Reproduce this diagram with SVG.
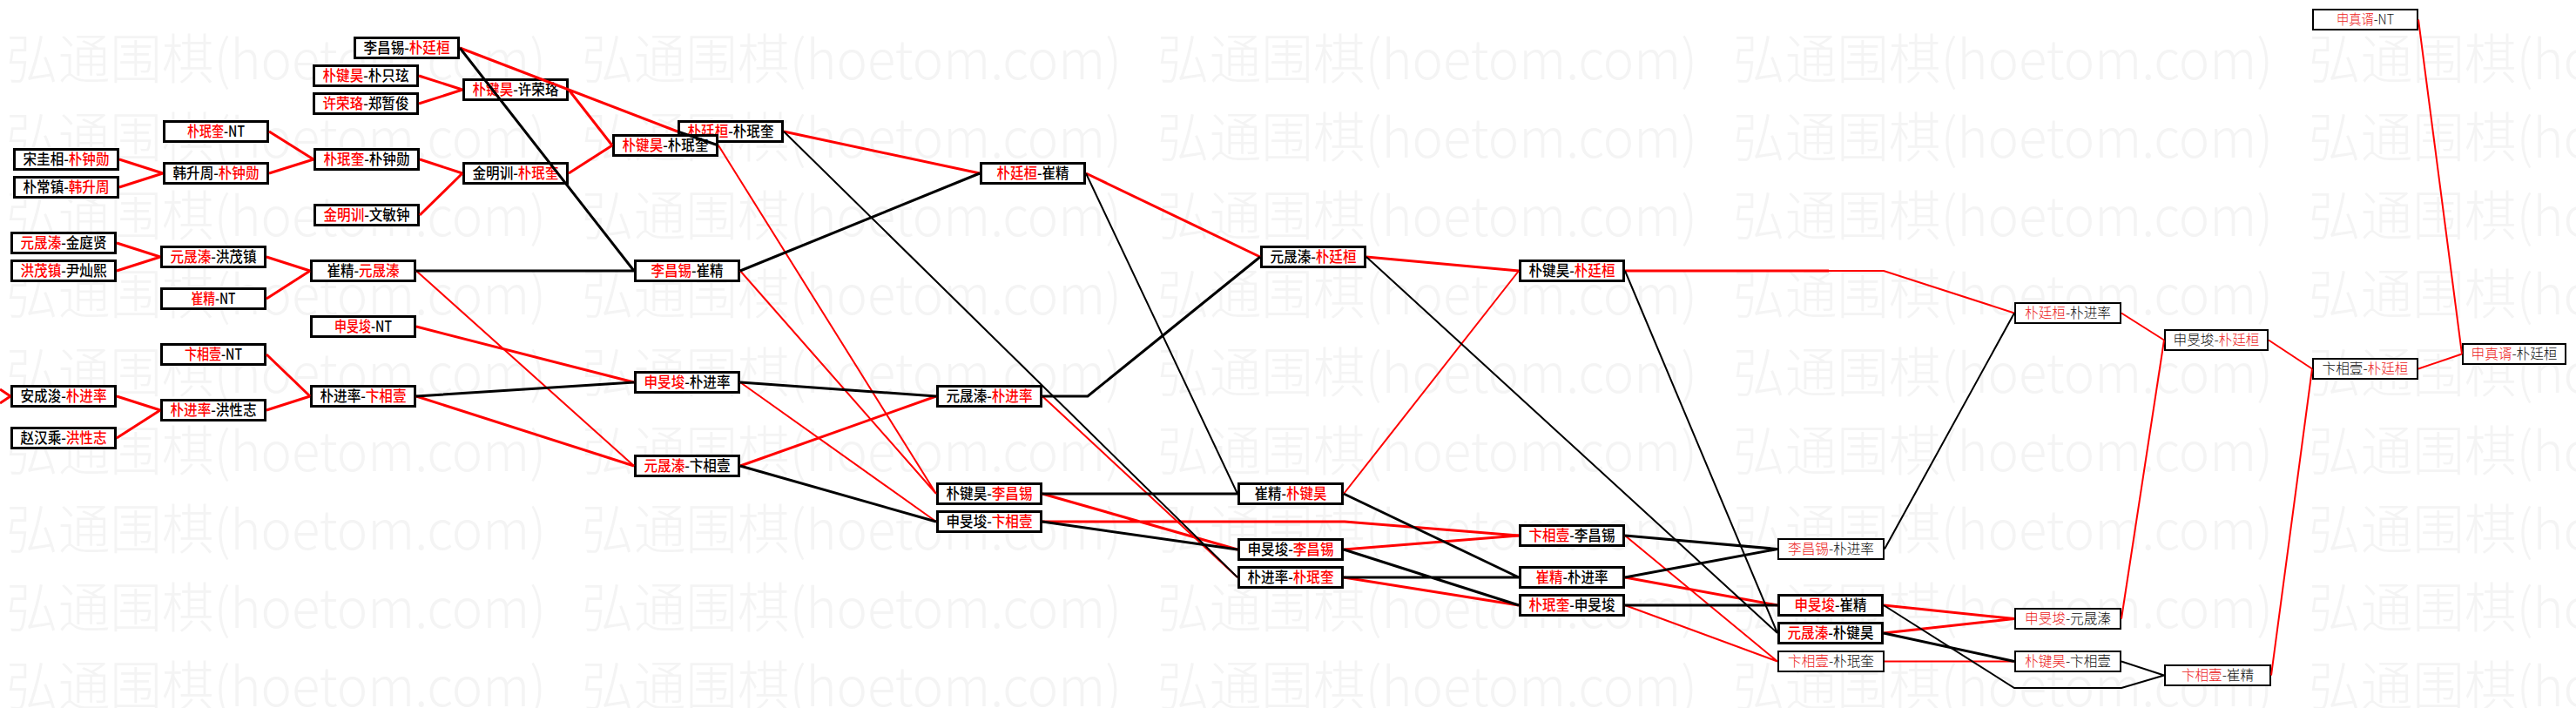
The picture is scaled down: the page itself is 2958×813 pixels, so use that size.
<svg xmlns="http://www.w3.org/2000/svg" xmlns:xlink="http://www.w3.org/1999/xlink" width="2958" height="813" viewBox="0 0 2958 813">
<style>
.wm{font-family:"Noto Sans CJK SC","Noto Sans",sans-serif;font-size:62px;font-weight:300;fill:#f4f4f4}
.bx rect{fill:#fff;stroke:#000;stroke-width:3}
.lt rect{fill:#fff;stroke:#000;stroke-width:2}
.bx text,.lt text{font-family:"Noto Sans CJK SC","Noto Sans",sans-serif;text-anchor:middle}
.bx text{font-size:17px;font-weight:500;fill:#000}
.lt text{font-size:16px;font-weight:300;fill:#111}
.bx .r{fill:#f00}
.lt .r{fill:#ec2020}
#connectors path{fill:none;stroke-linejoin:miter}
.cr{stroke:#f00}.ck{stroke:#000}.w2{stroke-width:2}.w3{stroke-width:3}
</style>
<defs>
<g id="wmrow">
<text class="wm" x="7" textLength="620" lengthAdjust="spacingAndGlyphs">弘通围棋(hoetom.com)</text>
<text class="wm" x="668" textLength="620" lengthAdjust="spacingAndGlyphs">弘通围棋(hoetom.com)</text>
<text class="wm" x="1329" textLength="620" lengthAdjust="spacingAndGlyphs">弘通围棋(hoetom.com)</text>
<text class="wm" x="1990" textLength="620" lengthAdjust="spacingAndGlyphs">弘通围棋(hoetom.com)</text>
<text class="wm" x="2651" textLength="620" lengthAdjust="spacingAndGlyphs">弘通围棋(hoetom.com)</text>
</g>
</defs>
<rect x="0" y="0" width="2958" height="813" fill="#fff"/>
<g id="watermark">
<use xlink:href="#wmrow" y="91"/>
<use xlink:href="#wmrow" y="181"/>
<use xlink:href="#wmrow" y="271"/>
<use xlink:href="#wmrow" y="361"/>
<use xlink:href="#wmrow" y="451"/>
<use xlink:href="#wmrow" y="541"/>
<use xlink:href="#wmrow" y="631"/>
<use xlink:href="#wmrow" y="721"/>
<use xlink:href="#wmrow" y="811"/>
</g>
<g id="nodes">
<g id="n1" class="bx"><rect x="16.5" y="171.5" width="119" height="23"/><text x="76" y="189" textLength="99" lengthAdjust="spacingAndGlyphs">宋圭相-<tspan class="r">朴钟勋</tspan></text></g>
<g id="n2" class="bx"><rect x="16.5" y="203.5" width="119" height="23"/><text x="76" y="221" textLength="99" lengthAdjust="spacingAndGlyphs">朴常镇-<tspan class="r">韩升周</tspan></text></g>
<g id="n3" class="bx"><rect x="13.5" y="267.5" width="119" height="23"/><text x="73" y="285" textLength="99" lengthAdjust="spacingAndGlyphs"><tspan class="r">元晟溱</tspan>-金庭贤</text></g>
<g id="n4" class="bx"><rect x="13.5" y="299.5" width="119" height="23"/><text x="73" y="317" textLength="99" lengthAdjust="spacingAndGlyphs"><tspan class="r">洪茂镇</tspan>-尹灿熙</text></g>
<g id="n5" class="bx"><rect x="13.5" y="443.5" width="119" height="23"/><text x="73" y="461" textLength="99" lengthAdjust="spacingAndGlyphs">安成浚-<tspan class="r">朴进率</tspan></text></g>
<g id="n6" class="bx"><rect x="13.5" y="491.5" width="119" height="23"/><text x="73" y="509" textLength="99" lengthAdjust="spacingAndGlyphs">赵汉乘-<tspan class="r">洪性志</tspan></text></g>
<g id="n7" class="bx"><rect x="188.5" y="139.5" width="119" height="23"/><text x="248" y="157" textLength="66" lengthAdjust="spacingAndGlyphs"><tspan class="r">朴珉奎</tspan>-NT</text></g>
<g id="n8" class="bx"><rect x="188.5" y="187.5" width="119" height="23"/><text x="248" y="205" textLength="99" lengthAdjust="spacingAndGlyphs">韩升周-<tspan class="r">朴钟勋</tspan></text></g>
<g id="n9" class="bx"><rect x="185.5" y="283.5" width="119" height="23"/><text x="245" y="301" textLength="99" lengthAdjust="spacingAndGlyphs"><tspan class="r">元晟溱</tspan>-洪茂镇</text></g>
<g id="n10" class="bx"><rect x="185.5" y="331.5" width="119" height="23"/><text x="245" y="349" textLength="51" lengthAdjust="spacingAndGlyphs"><tspan class="r">崔精</tspan>-NT</text></g>
<g id="n11" class="bx"><rect x="185.5" y="395.5" width="119" height="23"/><text x="245" y="413" textLength="66" lengthAdjust="spacingAndGlyphs"><tspan class="r">卞相壹</tspan>-NT</text></g>
<g id="n12" class="bx"><rect x="185.5" y="459.5" width="119" height="23"/><text x="245" y="477" textLength="99" lengthAdjust="spacingAndGlyphs"><tspan class="r">朴进率</tspan>-洪性志</text></g>
<g id="n13" class="bx"><rect x="407.5" y="43.5" width="119" height="23"/><text x="467" y="61" textLength="99" lengthAdjust="spacingAndGlyphs">李昌锡-<tspan class="r">朴廷桓</tspan></text></g>
<g id="n14" class="bx"><rect x="360.5" y="75.5" width="119" height="23"/><text x="420" y="93" textLength="99" lengthAdjust="spacingAndGlyphs"><tspan class="r">朴键昊</tspan>-朴只玹</text></g>
<g id="n15" class="bx"><rect x="360.5" y="107.5" width="119" height="23"/><text x="420" y="125" textLength="99" lengthAdjust="spacingAndGlyphs"><tspan class="r">许荣珞</tspan>-郑暂俊</text></g>
<g id="n16" class="bx"><rect x="361.5" y="171.5" width="119" height="23"/><text x="421" y="189" textLength="99" lengthAdjust="spacingAndGlyphs"><tspan class="r">朴珉奎</tspan>-朴钟勋</text></g>
<g id="n17" class="bx"><rect x="361.5" y="235.5" width="119" height="23"/><text x="421" y="253" textLength="99" lengthAdjust="spacingAndGlyphs"><tspan class="r">金明训</tspan>-文敏钟</text></g>
<g id="n18" class="bx"><rect x="357.5" y="299.5" width="119" height="23"/><text x="417" y="317" textLength="83" lengthAdjust="spacingAndGlyphs">崔精-<tspan class="r">元晟溱</tspan></text></g>
<g id="n19" class="bx"><rect x="357.5" y="363.5" width="119" height="23"/><text x="417" y="381" textLength="66" lengthAdjust="spacingAndGlyphs"><tspan class="r">申旻埈</tspan>-NT</text></g>
<g id="n20" class="bx"><rect x="357.5" y="443.5" width="119" height="23"/><text x="417" y="461" textLength="99" lengthAdjust="spacingAndGlyphs">朴进率-<tspan class="r">卞相壹</tspan></text></g>
<g id="n21" class="bx"><rect x="532.5" y="91.5" width="119" height="23"/><text x="592" y="109" textLength="99" lengthAdjust="spacingAndGlyphs"><tspan class="r">朴键昊</tspan>-许荣珞</text></g>
<g id="n22" class="bx"><rect x="532.5" y="187.5" width="119" height="23"/><text x="592" y="205" textLength="99" lengthAdjust="spacingAndGlyphs">金明训-<tspan class="r">朴珉奎</tspan></text></g>
<g id="n23" class="bx"><rect x="779.5" y="139.5" width="119" height="23"/><text x="839" y="157" textLength="99" lengthAdjust="spacingAndGlyphs"><tspan class="r">朴廷桓</tspan>-朴珉奎</text></g>
<g id="n24" class="bx"><rect x="704.5" y="155.5" width="119" height="23"/><text x="764" y="173" textLength="99" lengthAdjust="spacingAndGlyphs"><tspan class="r">朴键昊</tspan>-朴珉奎</text></g>
<g id="n25" class="bx"><rect x="729.5" y="299.5" width="119" height="23"/><text x="789" y="317" textLength="83" lengthAdjust="spacingAndGlyphs"><tspan class="r">李昌锡</tspan>-崔精</text></g>
<g id="n26" class="bx"><rect x="729.5" y="427.5" width="119" height="23"/><text x="789" y="445" textLength="99" lengthAdjust="spacingAndGlyphs"><tspan class="r">申旻埈</tspan>-朴进率</text></g>
<g id="n27" class="bx"><rect x="729.5" y="523.5" width="119" height="23"/><text x="789" y="541" textLength="99" lengthAdjust="spacingAndGlyphs"><tspan class="r">元晟溱</tspan>-卞相壹</text></g>
<g id="n28" class="bx"><rect x="1126.5" y="187.5" width="119" height="23"/><text x="1186" y="205" textLength="83" lengthAdjust="spacingAndGlyphs"><tspan class="r">朴廷桓</tspan>-崔精</text></g>
<g id="n29" class="bx"><rect x="1076.5" y="443.5" width="119" height="23"/><text x="1136" y="461" textLength="99" lengthAdjust="spacingAndGlyphs">元晟溱-<tspan class="r">朴进率</tspan></text></g>
<g id="n30" class="bx"><rect x="1076.5" y="555.5" width="119" height="23"/><text x="1136" y="573" textLength="99" lengthAdjust="spacingAndGlyphs">朴键昊-<tspan class="r">李昌锡</tspan></text></g>
<g id="n31" class="bx"><rect x="1076.5" y="587.5" width="119" height="23"/><text x="1136" y="605" textLength="99" lengthAdjust="spacingAndGlyphs">申旻埈-<tspan class="r">卞相壹</tspan></text></g>
<g id="n32" class="bx"><rect x="1448.5" y="283.5" width="119" height="23"/><text x="1508" y="301" textLength="99" lengthAdjust="spacingAndGlyphs">元晟溱-<tspan class="r">朴廷桓</tspan></text></g>
<g id="n33" class="bx"><rect x="1422.5" y="555.5" width="119" height="23"/><text x="1482" y="573" textLength="83" lengthAdjust="spacingAndGlyphs">崔精-<tspan class="r">朴键昊</tspan></text></g>
<g id="n34" class="bx"><rect x="1422.5" y="619.5" width="119" height="23"/><text x="1482" y="637" textLength="99" lengthAdjust="spacingAndGlyphs">申旻埈-<tspan class="r">李昌锡</tspan></text></g>
<g id="n35" class="bx"><rect x="1422.5" y="651.5" width="119" height="23"/><text x="1482" y="669" textLength="99" lengthAdjust="spacingAndGlyphs">朴进率-<tspan class="r">朴珉奎</tspan></text></g>
<g id="n36" class="bx"><rect x="1745.5" y="299.5" width="119" height="23"/><text x="1805" y="317" textLength="99" lengthAdjust="spacingAndGlyphs">朴键昊-<tspan class="r">朴廷桓</tspan></text></g>
<g id="n37" class="bx"><rect x="1745.5" y="603.5" width="119" height="23"/><text x="1805" y="621" textLength="99" lengthAdjust="spacingAndGlyphs"><tspan class="r">卞相壹</tspan>-李昌锡</text></g>
<g id="n38" class="bx"><rect x="1745.5" y="651.5" width="119" height="23"/><text x="1805" y="669" textLength="83" lengthAdjust="spacingAndGlyphs"><tspan class="r">崔精</tspan>-朴进率</text></g>
<g id="n39" class="bx"><rect x="1745.5" y="683.5" width="119" height="23"/><text x="1805" y="701" textLength="99" lengthAdjust="spacingAndGlyphs"><tspan class="r">朴珉奎</tspan>-申旻埈</text></g>
<g id="n40" class="lt"><rect x="2042" y="619" width="121" height="23"/><text x="2102.5" y="636" textLength="99" lengthAdjust="spacingAndGlyphs"><tspan class="r">李昌锡</tspan>-朴进率</text></g>
<g id="n41" class="bx"><rect x="2042.5" y="683.5" width="119" height="23"/><text x="2102" y="701" textLength="83" lengthAdjust="spacingAndGlyphs"><tspan class="r">申旻埈</tspan>-崔精</text></g>
<g id="n42" class="bx"><rect x="2042.5" y="715.5" width="119" height="23"/><text x="2102" y="733" textLength="99" lengthAdjust="spacingAndGlyphs"><tspan class="r">元晟溱</tspan>-朴键昊</text></g>
<g id="n43" class="lt"><rect x="2042" y="748" width="121" height="23"/><text x="2102.5" y="765" textLength="99" lengthAdjust="spacingAndGlyphs"><tspan class="r">卞相壹</tspan>-朴珉奎</text></g>
<g id="n44" class="lt"><rect x="2314" y="348" width="121" height="23"/><text x="2374.5" y="365" textLength="99" lengthAdjust="spacingAndGlyphs"><tspan class="r">朴廷桓</tspan>-朴进率</text></g>
<g id="n45" class="lt"><rect x="2314" y="699" width="121" height="23"/><text x="2374.5" y="716" textLength="99" lengthAdjust="spacingAndGlyphs"><tspan class="r">申旻埈</tspan>-元晟溱</text></g>
<g id="n46" class="lt"><rect x="2314" y="748" width="121" height="23"/><text x="2374.5" y="765" textLength="99" lengthAdjust="spacingAndGlyphs"><tspan class="r">朴键昊</tspan>-卞相壹</text></g>
<g id="n47" class="lt"><rect x="2486" y="379" width="118" height="23"/><text x="2545" y="396" textLength="99" lengthAdjust="spacingAndGlyphs">申旻埈-<tspan class="r">朴廷桓</tspan></text></g>
<g id="n48" class="lt"><rect x="2486" y="764" width="121" height="23"/><text x="2546.5" y="781" textLength="83" lengthAdjust="spacingAndGlyphs"><tspan class="r">卞相壹</tspan>-崔精</text></g>
<g id="n49" class="lt"><rect x="2656" y="11" width="120" height="23"/><text x="2716" y="28" textLength="66" lengthAdjust="spacingAndGlyphs"><tspan class="r">申真谞</tspan>-NT</text></g>
<g id="n50" class="lt"><rect x="2656" y="412" width="120" height="23"/><text x="2716" y="429" textLength="99" lengthAdjust="spacingAndGlyphs">卞相壹-<tspan class="r">朴廷桓</tspan></text></g>
<g id="n51" class="lt"><rect x="2828" y="395" width="118" height="23"/><text x="2887" y="412" textLength="99" lengthAdjust="spacingAndGlyphs"><tspan class="r">申真谞</tspan>-朴廷桓</text></g>
</g>
<g id="connectors">
<path class="cr w3" d="M0,447L12,455M0,463L12,455"/>
<path class="cr w3" d="M137,183L187,199M137,215L187,199M134,279L184,295M134,311L184,295M134,455L184,471M134,503L184,471"/>
<path class="cr w3" d="M309,151L360,183M309,199L360,183M306,295L356,311M306,343L356,311M306,407L356,455M306,471L356,455"/>
<path class="cr w3" d="M481,87L531,103M481,119L531,103M482,183L531,199M482,247L531,199"/>
<path class="cr w3" d="M528,55L778,151M653,103L703,167M653,199L703,167M478,375L728,439M478,455L728,535"/>
<path class="cr w2" d="M478,311L728,535"/>
<path class="cr w3" d="M900,151L1125,199M850,535L1075,455"/>
<path class="cr w2" d="M825,167L1075,567M850,311L1075,567M850,439L1075,599"/>
<path class="cr w3" d="M1247,199L1447,295M1197,567L1421,631M1197,599L1544,599L1744,615"/>
<path class="cr w2" d="M1197,455L1421,663"/>
<path class="cr w3" d="M1569,295L1744,311M1543,631L1744,615M1543,663L1744,695"/>
<path class="cr w2" d="M1543,567L1744,311"/>
<path class="cr w3" d="M1866,311L2100,311M1866,663L2041,695"/>
<path class="cr w2" d="M2100,311L2163,311L2313,359.5M1866,615L2041,759.5M1866,695L2041,759.5"/>
<path class="cr w3" d="M2163,695L2313,710.5M2163,727L2313,710.5"/>
<path class="cr w2" d="M2164,759.5L2313,759.5M2436,359.5L2485,390.5M2436,710.5L2485,390.5M2605,390.5L2655,423.5M2608,775.5L2655,423.5M2777,22.5L2827,406.5M2777,423.5L2827,406.5"/>
<path class="ck w3" d="M528,55L728,311M478,311L728,311M478,455L728,439M825,167L778,151M850,311L1125,199M850,439L1075,455M850,535L1075,599"/>
<path class="ck w2" d="M900,151L1421,663M1247,199L1421,567"/>
<path class="ck w3" d="M1197,455L1249,455L1447,295M1197,567L1421,567M1197,599L1421,631"/>
<path class="ck w2" d="M1569,295L2041,727M1866,311L2041,727"/>
<path class="ck w3" d="M1543,567L1744,663M1543,631L1744,695M1543,663L1744,663M1866,615L2041,630.5M1866,663L2041,630.5M1866,695L2041,695M2163,727L2313,759.5"/>
<path class="ck w2" d="M2164,630.5L2313,359.5M2163,695L2313,790L2436,790L2485,775.5M2436,759.5L2485,775.5"/>
</g>
</svg>
